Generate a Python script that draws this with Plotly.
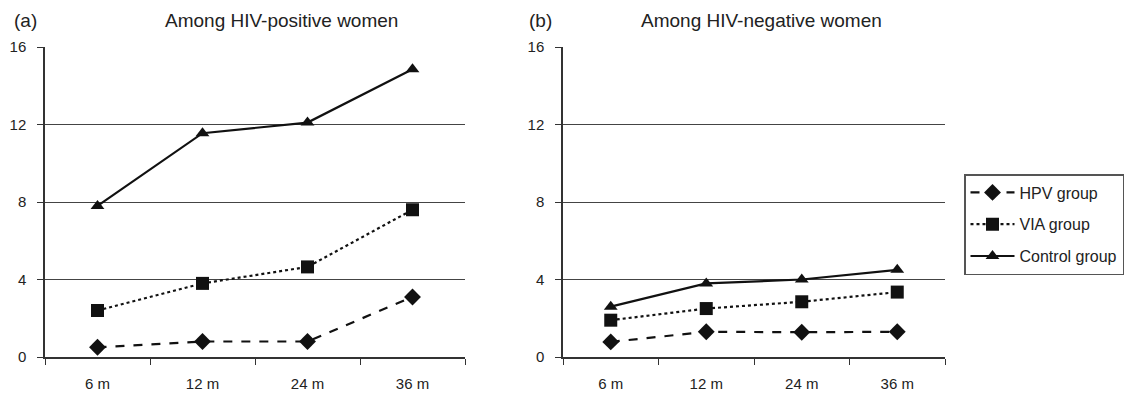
import plotly.graph_objects as go

months = ["6 m", "12 m", "24 m", "36 m"]
y_ticks = [0, 4, 8, 12, 16]

pos_hpv = [0.5, 0.8, 0.8, 3.1]
pos_via = [2.4, 3.8, 4.65, 7.6]
pos_control = [7.8, 11.55, 12.1, 14.85]

neg_hpv = [0.78, 1.3, 1.28, 1.3]
neg_via = [1.9, 2.5, 2.85, 3.35]
neg_control = [2.6, 3.8, 4.0, 4.5]

series_names = ["HPV group", "VIA group", "Control group"]
panel_titles = ["Among HIV-positive women", "Among HIV-negative women"]
panel_labels = ["(a)", "(b)"]

W, H = 1131, 395
FONT = "Liberation Sans, Arial, sans-serif"

styles = [
    dict(dash="dash", symbol="diamond", size=13),
    dict(dash="dot", symbol="square", size=13),
    dict(dash="solid", symbol="triangle-up", size=12),
]

fig = go.Figure()
panels = [(pos_hpv, pos_via, pos_control), (neg_hpv, neg_via, neg_control)]
for p, data in enumerate(panels):
    xa = "x" if p == 0 else "x2"
    ya = "y" if p == 0 else "y2"
    for i, vals in enumerate(data):
        st = styles[i]
        fig.add_trace(go.Scatter(
            x=months, y=vals, mode="lines+markers", name=series_names[i],
            legendgroup=series_names[i],
            xaxis=xa, yaxis=ya, showlegend=(p == 1),
            line=dict(color="#111111", width=2.2, dash=st["dash"]),
            marker=dict(symbol=st["symbol"], size=st["size"], color="#111111"),
        ))

def px_x(v):
    return v / W

def px_y(v):
    return 1 - v / H

ydom = [px_y(357), px_y(47)]
common_x = dict(type="category", range=[-0.5, 3.5], showgrid=False, showline=True,
                linecolor="#333333", linewidth=1.5, ticks="outside", ticklen=6,
                tickcolor="#333333", tickson="boundaries", automargin=False,
                ticklabelstandoff=12,
                tickfont=dict(size=15, color="#222222", family=FONT), zeroline=False)
common_y = dict(range=[0, 16], tickvals=y_ticks, showgrid=True, gridcolor="#444444",
                gridwidth=1.2, showline=True, linecolor="#333333", linewidth=1.5,
                ticks="outside", ticklen=6, tickcolor="#333333", zeroline=False,
                automargin=False, ticklabelstandoff=8,
                tickfont=dict(size=15, color="#222222", family=FONT))

fig.update_layout(
    width=W, height=H,
    margin=dict(l=0, r=0, t=0, b=0, autoexpand=False),
    paper_bgcolor="white", plot_bgcolor="white",
    font=dict(family=FONT, color="#222222"),
    xaxis=dict(domain=[px_x(45), px_x(465)], anchor="y", **common_x),
    yaxis=dict(domain=ydom, anchor="x", **common_y),
    xaxis2=dict(domain=[px_x(563), px_x(945)], anchor="y2", **common_x),
    yaxis2=dict(domain=ydom, anchor="x2", **common_y),
    legend=dict(x=px_x(964), y=px_y(174), xanchor="left", yanchor="top",
                bordercolor="#555555", borderwidth=1.5, bgcolor="white",
                font=dict(size=16, color="#222222", family=FONT),
                tracegroupgap=8, itemwidth=44),
    showlegend=True,
)

annots = [
    (panel_labels[0], 12, 20, "left"),
    (panel_titles[0], 281, 20, "center"),
    (panel_labels[1], 527, 20, "left"),
    (panel_titles[1], 761, 20, "center"),
]
for text, x, y, anchor in annots:
    fig.add_annotation(text=text, x=px_x(x), y=px_y(y), xref="paper", yref="paper",
                       xanchor=anchor, yanchor="middle", showarrow=False,
                       font=dict(size=19, color="#222222", family=FONT))

fig.write_html("out.html", config={"displayModeBar": False},
               post_script="document.body.style.margin='0';document.body.style.overflow='hidden';")
